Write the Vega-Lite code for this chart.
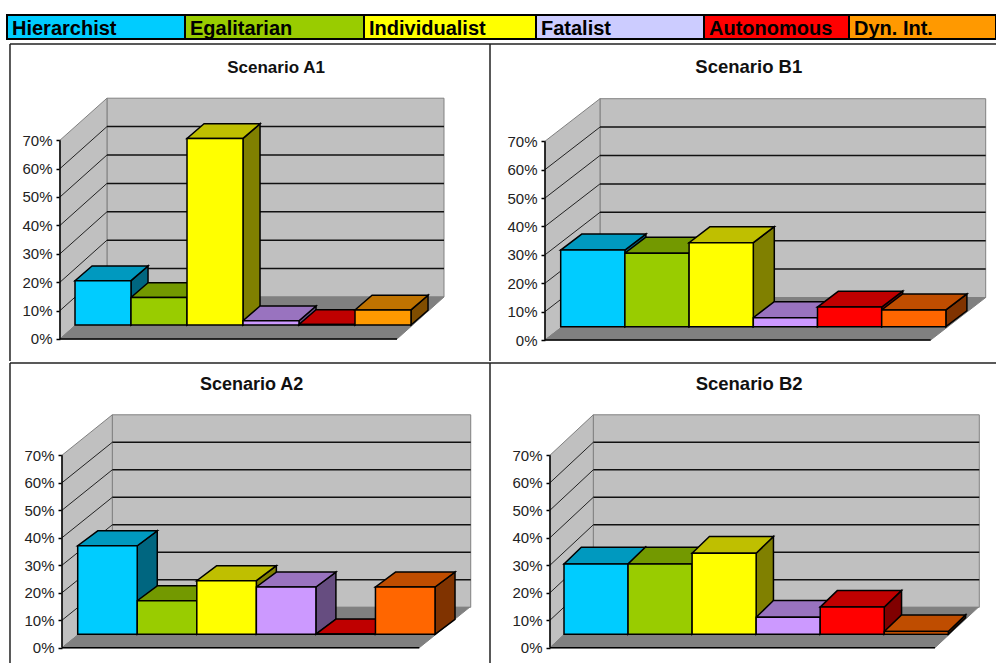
{"$schema":"https://vega.github.io/schema/vega-lite/v6.json","background":"white","padding":{"left":6,"top":14,"right":0,"bottom":0},"spacing":0,"config":{"view":{"stroke":null},"concat":{"spacing":0},"axis":{"labelFont":"Liberation Sans","labelFontSize":15,"labelColor":"#222222","tickColor":"#000000","tickSize":4,"tickWidth":1.5,"labelPadding":4,"domain":false,"grid":false}},"resolve":{"scale":{"fill":"independent","x":"independent","y":"independent"}},"datasets":{"shares":[{"scenario":"A1","group":"Hierarchist","value":15.6},{"scenario":"A1","group":"Egalitarian","value":9.7},{"scenario":"A1","group":"Individualist","value":65.7},{"scenario":"A1","group":"Fatalist","value":1.5},{"scenario":"A1","group":"Autonomous","value":0.2},{"scenario":"A1","group":"Dyn. Int.","value":5.3},{"scenario":"B1","group":"Hierarchist","value":27},{"scenario":"B1","group":"Egalitarian","value":25.9},{"scenario":"B1","group":"Individualist","value":29.6},{"scenario":"B1","group":"Fatalist","value":3.2},{"scenario":"B1","group":"Autonomous","value":6.9},{"scenario":"B1","group":"Dyn. Int.","value":5.9},{"scenario":"A2","group":"Hierarchist","value":32.2},{"scenario":"A2","group":"Egalitarian","value":12.2},{"scenario":"A2","group":"Individualist","value":19.5},{"scenario":"A2","group":"Fatalist","value":17.2},{"scenario":"A2","group":"Autonomous","value":0.1},{"scenario":"A2","group":"Dyn. Int.","value":17.2},{"scenario":"B2","group":"Hierarchist","value":25.6},{"scenario":"B2","group":"Egalitarian","value":25.6},{"scenario":"B2","group":"Individualist","value":29.5},{"scenario":"B2","group":"Fatalist","value":6.2},{"scenario":"B2","group":"Autonomous","value":9.9},{"scenario":"B2","group":"Dyn. Int.","value":1}],"groups":[{"group":"Hierarchist"},{"group":"Egalitarian"},{"group":"Individualist"},{"group":"Fatalist"},{"group":"Autonomous"},{"group":"Dyn. Int."}],"levels":[{"level":0},{"level":10},{"level":20},{"level":30},{"level":40},{"level":50},{"level":60},{"level":70}],"ends":[{"end":0},{"end":1}],"edges":[{"edge":"one"},{"edge":"two"}],"single":[{"part":"wall"}]},"vconcat":[{"width":989,"height":24,"data":{"name":"groups"},"transform":[{"calculate":"indexof(['Hierarchist','Egalitarian','Individualist','Fatalist','Autonomous','Dyn. Int.'],datum.group)","as":"slot"},{"calculate":"[0,178,357,529,697,842][datum.slot]","as":"px"},{"calculate":"[178,357,529,697,842,989][datum.slot]","as":"px2"}],"encoding":{"x":{"field":"px","type":"quantitative","scale":{"domain":[0,989]},"axis":null}},"layer":[{"transform":[{"calculate":"0","as":"py"},{"calculate":"1","as":"py2"}],"mark":{"type":"rect","stroke":"#000000","strokeWidth":2},"encoding":{"x2":{"field":"px2"},"y":{"field":"py","type":"quantitative","scale":{"domain":[0,1]},"axis":null},"y2":{"field":"py2"},"fill":{"field":"group","type":"nominal","legend":null,"scale":{"domain":["Hierarchist","Egalitarian","Individualist","Fatalist","Autonomous","Dyn. Int."],"range":["#00CCFF","#99CC00","#FFFF00","#CCCCFF","#FF0000","#FF9900"]}}}},{"transform":[{"calculate":"0.167","as":"py"}],"mark":{"type":"text","align":"left","baseline":"alphabetic","dx":5,"font":"Liberation Sans","fontWeight":"bold","fontSize":20,"fill":"#000000"},"encoding":{"y":{"field":"py","type":"quantitative","scale":{"domain":[0,1]},"axis":null},"text":{"field":"group"}}}]},{"hconcat":[{"width":483,"height":321,"data":{"name":"shares"},"transform":[{"filter":"datum.scenario==='A1'"},{"calculate":"indexof(['Hierarchist','Egalitarian','Individualist','Fatalist','Autonomous','Dyn. Int.'],datum.group)","as":"slot"}],"encoding":{"x":{"field":"px","type":"quantitative","scale":{"domain":[-1.2143,7.4107]},"axis":null},"y":{"field":"py","type":"quantitative","scale":{"domain":[-7.75,105.28]},"axis":{"title":null,"values":[0,10,20,30,40,50,60,70],"labelExpr":"datum.value+'%'","offset":-53}}},"resolve":{"scale":{"fill":"independent"}},"layer":[{"data":{"name":"edges"},"transform":[{"calculate":"-1.161","as":"px"},{"calculate":"datum.edge==='one'?-1.161:7.4107","as":"px2"},{"calculate":"datum.edge==='one'?-7.75:103.87","as":"py"},{"calculate":"103.87","as":"py2"}],"mark":{"type":"rule","stroke":"#222222","strokeWidth":1.5},"encoding":{"x2":{"field":"px2"},"y2":{"field":"py2"}}},{"data":{"name":"single"},"transform":[{"calculate":"0.571","as":"px"},{"calculate":"6.589","as":"px2"},{"calculate":"14.79","as":"py"},{"calculate":"84.79","as":"py2"}],"mark":{"type":"rect","fill":"#C0C0C0","stroke":"#808080","strokeWidth":1},"encoding":{"x2":{"field":"px2"},"y2":{"field":"py2"}}},{"data":{"name":"ends"},"transform":[{"calculate":"-0.268+datum.end*(0.571+0.268)","as":"px"},{"calculate":"datum.end*14.79","as":"py"},{"calculate":"datum.py+70","as":"py2"}],"mark":{"type":"area","orient":"vertical","fill":"#C0C0C0","stroke":"#808080","strokeWidth":1},"encoding":{"y2":{"field":"py2"}}},{"data":{"name":"ends"},"transform":[{"calculate":"-0.268+datum.end*(0.571+0.268)","as":"px"},{"calculate":"datum.px+6.018","as":"px2"},{"calculate":"datum.end*14.79","as":"py"}],"mark":{"type":"area","orient":"horizontal","fill":"#808080","stroke":"#808080","strokeWidth":1},"encoding":{"x2":{"field":"px2"}}},{"data":{"name":"levels"},"transform":[{"filter":"datum.level>0&&datum.level<70"},{"calculate":"0.571","as":"px"},{"calculate":"6.589","as":"px2"},{"calculate":"datum.level+14.79","as":"py"},{"calculate":"datum.py","as":"py2"}],"mark":{"type":"rule","stroke":"#111111","strokeWidth":1.5},"encoding":{"x2":{"field":"px2"},"y2":{"field":"py2"}}},{"data":{"name":"levels"},"transform":[{"filter":"datum.level>0&&datum.level<70"},{"calculate":"-0.268","as":"px"},{"calculate":"0.571","as":"px2"},{"calculate":"datum.level","as":"py"},{"calculate":"datum.level+14.79","as":"py2"}],"mark":{"type":"rule","stroke":"#222222","strokeWidth":1},"encoding":{"x2":{"field":"px2"},"y2":{"field":"py2"}}},{"data":{"name":"edges"},"transform":[{"calculate":"-0.268","as":"px"},{"calculate":"datum.edge==='one'?-0.268:5.75","as":"px2"},{"calculate":"0","as":"py"},{"calculate":"datum.edge==='one'?70:0","as":"py2"}],"mark":{"type":"rule","stroke":"#000000","strokeWidth":1.5},"encoding":{"x2":{"field":"px2"},"y2":{"field":"py2"}}},{"transform":[{"calculate":"[0,1]","as":"end"},{"flatten":["end"]},{"calculate":"datum.slot+1+datum.end*0.304","as":"px"},{"calculate":"4.93+datum.end*5.18","as":"py"},{"calculate":"datum.py+datum.value","as":"py2"}],"mark":{"type":"area","orient":"vertical","stroke":"#000000","strokeWidth":1.5},"encoding":{"y2":{"field":"py2"},"fill":{"field":"group","type":"nominal","legend":null,"scale":{"domain":["Hierarchist","Egalitarian","Individualist","Fatalist","Autonomous","Dyn. Int."],"range":["#006680","#4D6600","#808000","#664D80","#800000","#804D00"]}}}},{"transform":[{"calculate":"[0,1]","as":"end"},{"flatten":["end"]},{"calculate":"datum.slot+datum.end*0.304","as":"px"},{"calculate":"datum.px+1","as":"px2"},{"calculate":"4.93+datum.end*5.18+datum.value","as":"py"}],"mark":{"type":"area","orient":"horizontal","stroke":"#000000","strokeWidth":1.5},"encoding":{"x2":{"field":"px2"},"fill":{"field":"group","type":"nominal","legend":null,"scale":{"domain":["Hierarchist","Egalitarian","Individualist","Fatalist","Autonomous","Dyn. Int."],"range":["#0099BF","#739900","#BFBF00","#9973BF","#BF0000","#BF7300"]}}}},{"transform":[{"calculate":"datum.slot","as":"px"},{"calculate":"datum.slot+1","as":"px2"},{"calculate":"4.93","as":"py"},{"calculate":"4.93+datum.value","as":"py2"}],"mark":{"type":"rect","stroke":"#000000","strokeWidth":1.5},"encoding":{"x2":{"field":"px2"},"y2":{"field":"py2"},"fill":{"field":"group","type":"nominal","legend":null,"scale":{"domain":["Hierarchist","Egalitarian","Individualist","Fatalist","Autonomous","Dyn. Int."],"range":["#00CCFF","#99CC00","#FFFF00","#CC99FF","#FF0000","#FF9900"]}}}},{"data":{"name":"single"},"transform":[{"calculate":"3.59","as":"px"},{"calculate":"93.65","as":"py"},{"calculate":"'Scenario A1'","as":"label"}],"mark":{"type":"text","align":"center","baseline":"alphabetic","font":"Liberation Sans","fontWeight":"bold","fontSize":17,"fill":"#111111"},"encoding":{"text":{"field":"label"}}}]},{"width":506,"height":321,"data":{"name":"shares"},"transform":[{"filter":"datum.scenario==='B1'"},{"calculate":"indexof(['Hierarchist','Egalitarian','Individualist','Fatalist','Autonomous','Dyn. Int.'],datum.group)","as":"slot"}],"encoding":{"x":{"field":"px","type":"quantitative","scale":{"domain":[-1.1012,6.7804]},"axis":null},"y":{"field":"py","type":"quantitative","scale":{"domain":[-7.39,105.63]},"axis":{"title":null,"values":[0,10,20,30,40,50,60,70],"labelExpr":"datum.value+'%'","offset":-55}}},"resolve":{"scale":{"fill":"independent"}},"layer":[{"data":{"name":"edges"},"transform":[{"calculate":"-1.1012","as":"px"},{"calculate":"datum.edge==='one'?-1.1012:6.7804","as":"px2"},{"calculate":"datum.edge==='one'?-7.39:104.23","as":"py"},{"calculate":"104.23","as":"py2"}],"mark":{"type":"rule","stroke":"#222222","strokeWidth":1.5},"encoding":{"x2":{"field":"px2"},"y2":{"field":"py2"}}},{"data":{"name":"single"},"transform":[{"calculate":"0.612","as":"px"},{"calculate":"6.62","as":"px2"},{"calculate":"14.96","as":"py"},{"calculate":"84.96","as":"py2"}],"mark":{"type":"rect","fill":"#C0C0C0","stroke":"#808080","strokeWidth":1},"encoding":{"x2":{"field":"px2"},"y2":{"field":"py2"}}},{"data":{"name":"ends"},"transform":[{"calculate":"-0.2445+datum.end*(0.612+0.2445)","as":"px"},{"calculate":"datum.end*14.96","as":"py"},{"calculate":"datum.py+70","as":"py2"}],"mark":{"type":"area","orient":"vertical","fill":"#C0C0C0","stroke":"#808080","strokeWidth":1},"encoding":{"y2":{"field":"py2"}}},{"data":{"name":"ends"},"transform":[{"calculate":"-0.2445+datum.end*(0.612+0.2445)","as":"px"},{"calculate":"datum.px+6.008","as":"px2"},{"calculate":"datum.end*14.96","as":"py"}],"mark":{"type":"area","orient":"horizontal","fill":"#808080","stroke":"#808080","strokeWidth":1},"encoding":{"x2":{"field":"px2"}}},{"data":{"name":"levels"},"transform":[{"filter":"datum.level>0&&datum.level<70"},{"calculate":"0.612","as":"px"},{"calculate":"6.62","as":"px2"},{"calculate":"datum.level+14.96","as":"py"},{"calculate":"datum.py","as":"py2"}],"mark":{"type":"rule","stroke":"#111111","strokeWidth":1.5},"encoding":{"x2":{"field":"px2"},"y2":{"field":"py2"}}},{"data":{"name":"levels"},"transform":[{"filter":"datum.level>0&&datum.level<70"},{"calculate":"-0.2445","as":"px"},{"calculate":"0.612","as":"px2"},{"calculate":"datum.level","as":"py"},{"calculate":"datum.level+14.96","as":"py2"}],"mark":{"type":"rule","stroke":"#222222","strokeWidth":1},"encoding":{"x2":{"field":"px2"},"y2":{"field":"py2"}}},{"data":{"name":"edges"},"transform":[{"calculate":"-0.2445","as":"px"},{"calculate":"datum.edge==='one'?-0.2445:5.763","as":"px2"},{"calculate":"0","as":"py"},{"calculate":"datum.edge==='one'?70:0","as":"py2"}],"mark":{"type":"rule","stroke":"#000000","strokeWidth":1.5},"encoding":{"x2":{"field":"px2"},"y2":{"field":"py2"}}},{"transform":[{"calculate":"[0,1]","as":"end"},{"flatten":["end"]},{"calculate":"datum.slot+1+datum.end*0.327","as":"px"},{"calculate":"4.68+datum.end*5.63","as":"py"},{"calculate":"datum.py+datum.value","as":"py2"}],"mark":{"type":"area","orient":"vertical","stroke":"#000000","strokeWidth":1.5},"encoding":{"y2":{"field":"py2"},"fill":{"field":"group","type":"nominal","legend":null,"scale":{"domain":["Hierarchist","Egalitarian","Individualist","Fatalist","Autonomous","Dyn. Int."],"range":["#006680","#4D6600","#808000","#664D80","#800000","#803300"]}}}},{"transform":[{"calculate":"[0,1]","as":"end"},{"flatten":["end"]},{"calculate":"datum.slot+datum.end*0.327","as":"px"},{"calculate":"datum.px+1","as":"px2"},{"calculate":"4.68+datum.end*5.63+datum.value","as":"py"}],"mark":{"type":"area","orient":"horizontal","stroke":"#000000","strokeWidth":1.5},"encoding":{"x2":{"field":"px2"},"fill":{"field":"group","type":"nominal","legend":null,"scale":{"domain":["Hierarchist","Egalitarian","Individualist","Fatalist","Autonomous","Dyn. Int."],"range":["#0099BF","#739900","#BFBF00","#9973BF","#BF0000","#BF4D00"]}}}},{"transform":[{"calculate":"datum.slot","as":"px"},{"calculate":"datum.slot+1","as":"px2"},{"calculate":"4.68","as":"py"},{"calculate":"4.68+datum.value","as":"py2"}],"mark":{"type":"rect","stroke":"#000000","strokeWidth":1.5},"encoding":{"x2":{"field":"px2"},"y2":{"field":"py2"},"fill":{"field":"group","type":"nominal","legend":null,"scale":{"domain":["Hierarchist","Egalitarian","Individualist","Fatalist","Autonomous","Dyn. Int."],"range":["#00CCFF","#99CC00","#FFFF00","#CC99FF","#FF0000","#FF6600"]}}}},{"data":{"name":"single"},"transform":[{"calculate":"2.93","as":"px"},{"calculate":"94.05","as":"py"},{"calculate":"'Scenario B1'","as":"label"}],"mark":{"type":"text","align":"center","baseline":"alphabetic","font":"Liberation Sans","fontWeight":"bold","fontSize":18.5,"fill":"#111111"},"encoding":{"text":{"field":"label"}}}]}],"spacing":0,"bounds":"flush","resolve":{"scale":{"fill":"independent"}}},{"hconcat":[{"width":483,"height":300,"data":{"name":"shares"},"transform":[{"filter":"datum.scenario==='A2'"},{"calculate":"indexof(['Hierarchist','Egalitarian','Individualist','Fatalist','Autonomous','Dyn. Int.'],datum.group)","as":"slot"}],"encoding":{"x":{"field":"px","type":"quantitative","scale":{"domain":[-1.1873,6.9236]},"axis":null},"y":{"field":"py","type":"quantitative","scale":{"domain":[-5.56,103.53]},"axis":{"title":null,"values":[0,10,20,30,40,50,60,70],"labelExpr":"datum.value+'%'","offset":-55}}},"resolve":{"scale":{"fill":"independent"}},"layer":[{"data":{"name":"edges"},"transform":[{"calculate":"-1.137","as":"px"},{"calculate":"datum.edge==='one'?-1.137:6.9236","as":"px2"},{"calculate":"datum.edge==='one'?-5.56:103.53","as":"py"},{"calculate":"103.53","as":"py2"}],"mark":{"type":"rule","stroke":"#222222","strokeWidth":1.5},"encoding":{"x2":{"field":"px2"},"y2":{"field":"py2"}}},{"data":{"name":"single"},"transform":[{"calculate":"0.581","as":"px"},{"calculate":"6.6","as":"px2"},{"calculate":"14.69","as":"py"},{"calculate":"84.69","as":"py2"}],"mark":{"type":"rect","fill":"#C0C0C0","stroke":"#808080","strokeWidth":1},"encoding":{"x2":{"field":"px2"},"y2":{"field":"py2"}}},{"data":{"name":"ends"},"transform":[{"calculate":"-0.2636+datum.end*(0.581+0.2636)","as":"px"},{"calculate":"datum.end*14.69","as":"py"},{"calculate":"datum.py+70","as":"py2"}],"mark":{"type":"area","orient":"vertical","fill":"#C0C0C0","stroke":"#808080","strokeWidth":1},"encoding":{"y2":{"field":"py2"}}},{"data":{"name":"ends"},"transform":[{"calculate":"-0.2636+datum.end*(0.581+0.2636)","as":"px"},{"calculate":"datum.px+6","as":"px2"},{"calculate":"datum.end*14.69","as":"py"}],"mark":{"type":"area","orient":"horizontal","fill":"#808080","stroke":"#808080","strokeWidth":1},"encoding":{"x2":{"field":"px2"}}},{"data":{"name":"levels"},"transform":[{"filter":"datum.level>0&&datum.level<70"},{"calculate":"0.581","as":"px"},{"calculate":"6.6","as":"px2"},{"calculate":"datum.level+14.69","as":"py"},{"calculate":"datum.py","as":"py2"}],"mark":{"type":"rule","stroke":"#111111","strokeWidth":1.5},"encoding":{"x2":{"field":"px2"},"y2":{"field":"py2"}}},{"data":{"name":"levels"},"transform":[{"filter":"datum.level>0&&datum.level<70"},{"calculate":"-0.2636","as":"px"},{"calculate":"0.581","as":"px2"},{"calculate":"datum.level","as":"py"},{"calculate":"datum.level+14.69","as":"py2"}],"mark":{"type":"rule","stroke":"#222222","strokeWidth":1},"encoding":{"x2":{"field":"px2"},"y2":{"field":"py2"}}},{"data":{"name":"edges"},"transform":[{"calculate":"-0.2636","as":"px"},{"calculate":"datum.edge==='one'?-0.2636:5.736","as":"px2"},{"calculate":"0","as":"py"},{"calculate":"datum.edge==='one'?70:0","as":"py2"}],"mark":{"type":"rule","stroke":"#000000","strokeWidth":1.5},"encoding":{"x2":{"field":"px2"},"y2":{"field":"py2"}}},{"transform":[{"calculate":"[0,1]","as":"end"},{"flatten":["end"]},{"calculate":"datum.slot+1+datum.end*0.336","as":"px"},{"calculate":"4.87+datum.end*5.45","as":"py"},{"calculate":"datum.py+datum.value","as":"py2"}],"mark":{"type":"area","orient":"vertical","stroke":"#000000","strokeWidth":1.5},"encoding":{"y2":{"field":"py2"},"fill":{"field":"group","type":"nominal","legend":null,"scale":{"domain":["Hierarchist","Egalitarian","Individualist","Fatalist","Autonomous","Dyn. Int."],"range":["#006680","#4D6600","#808000","#664D80","#800000","#803300"]}}}},{"transform":[{"calculate":"[0,1]","as":"end"},{"flatten":["end"]},{"calculate":"datum.slot+datum.end*0.336","as":"px"},{"calculate":"datum.px+1","as":"px2"},{"calculate":"4.87+datum.end*5.45+datum.value","as":"py"}],"mark":{"type":"area","orient":"horizontal","stroke":"#000000","strokeWidth":1.5},"encoding":{"x2":{"field":"px2"},"fill":{"field":"group","type":"nominal","legend":null,"scale":{"domain":["Hierarchist","Egalitarian","Individualist","Fatalist","Autonomous","Dyn. Int."],"range":["#0099BF","#739900","#BFBF00","#9973BF","#BF0000","#BF4D00"]}}}},{"transform":[{"calculate":"datum.slot","as":"px"},{"calculate":"datum.slot+1","as":"px2"},{"calculate":"4.87","as":"py"},{"calculate":"4.87+datum.value","as":"py2"}],"mark":{"type":"rect","stroke":"#000000","strokeWidth":1.5},"encoding":{"x2":{"field":"px2"},"y2":{"field":"py2"},"fill":{"field":"group","type":"nominal","legend":null,"scale":{"domain":["Hierarchist","Egalitarian","Individualist","Fatalist","Autonomous","Dyn. Int."],"range":["#00CCFF","#99CC00","#FFFF00","#CC99FF","#FF0000","#FF6600"]}}}},{"data":{"name":"single"},"transform":[{"calculate":"2.92","as":"px"},{"calculate":"93.83","as":"py"},{"calculate":"'Scenario A2'","as":"label"}],"mark":{"type":"text","align":"center","baseline":"alphabetic","font":"Liberation Sans","fontWeight":"bold","fontSize":18,"fill":"#111111"},"encoding":{"text":{"field":"label"}}}]},{"width":506,"height":300,"data":{"name":"shares"},"transform":[{"filter":"datum.scenario==='B2'"},{"calculate":"indexof(['Hierarchist','Egalitarian','Individualist','Fatalist','Autonomous','Dyn. Int.'],datum.group)","as":"slot"}],"encoding":{"x":{"field":"px","type":"quantitative","scale":{"domain":[-1.1554,6.7447]},"axis":null},"y":{"field":"py","type":"quantitative","scale":{"domain":[-5.56,103.53]},"axis":{"title":null,"values":[0,10,20,30,40,50,60,70],"labelExpr":"datum.value+'%'","offset":-60}}},"resolve":{"scale":{"fill":"independent"}},"layer":[{"data":{"name":"edges"},"transform":[{"calculate":"-1.1554","as":"px"},{"calculate":"datum.edge==='one'?-1.1554:6.7447","as":"px2"},{"calculate":"datum.edge==='one'?-5.56:103.53","as":"py"},{"calculate":"103.53","as":"py2"}],"mark":{"type":"rule","stroke":"#222222","strokeWidth":1.5},"encoding":{"x2":{"field":"px2"},"y2":{"field":"py2"}}},{"data":{"name":"single"},"transform":[{"calculate":"0.4575","as":"px"},{"calculate":"6.484","as":"px2"},{"calculate":"14.69","as":"py"},{"calculate":"84.69","as":"py2"}],"mark":{"type":"rect","fill":"#C0C0C0","stroke":"#808080","strokeWidth":1},"encoding":{"x2":{"field":"px2"},"y2":{"field":"py2"}}},{"data":{"name":"ends"},"transform":[{"calculate":"-0.2186+datum.end*(0.4575+0.2186)","as":"px"},{"calculate":"datum.end*14.69","as":"py"},{"calculate":"datum.py+70","as":"py2"}],"mark":{"type":"area","orient":"vertical","fill":"#C0C0C0","stroke":"#808080","strokeWidth":1},"encoding":{"y2":{"field":"py2"}}},{"data":{"name":"ends"},"transform":[{"calculate":"-0.2186+datum.end*(0.4575+0.2186)","as":"px"},{"calculate":"datum.px+6.0106","as":"px2"},{"calculate":"datum.end*14.69","as":"py"}],"mark":{"type":"area","orient":"horizontal","fill":"#808080","stroke":"#808080","strokeWidth":1},"encoding":{"x2":{"field":"px2"}}},{"data":{"name":"levels"},"transform":[{"filter":"datum.level>0&&datum.level<70"},{"calculate":"0.4575","as":"px"},{"calculate":"6.484","as":"px2"},{"calculate":"datum.level+14.69","as":"py"},{"calculate":"datum.py","as":"py2"}],"mark":{"type":"rule","stroke":"#111111","strokeWidth":1.5},"encoding":{"x2":{"field":"px2"},"y2":{"field":"py2"}}},{"data":{"name":"levels"},"transform":[{"filter":"datum.level>0&&datum.level<70"},{"calculate":"-0.2186","as":"px"},{"calculate":"0.4575","as":"px2"},{"calculate":"datum.level","as":"py"},{"calculate":"datum.level+14.69","as":"py2"}],"mark":{"type":"rule","stroke":"#222222","strokeWidth":1},"encoding":{"x2":{"field":"px2"},"y2":{"field":"py2"}}},{"data":{"name":"edges"},"transform":[{"calculate":"-0.2186","as":"px"},{"calculate":"datum.edge==='one'?-0.2186:5.792","as":"px2"},{"calculate":"0","as":"py"},{"calculate":"datum.edge==='one'?70:0","as":"py2"}],"mark":{"type":"rule","stroke":"#000000","strokeWidth":1.5},"encoding":{"x2":{"field":"px2"},"y2":{"field":"py2"}}},{"transform":[{"calculate":"[0,1]","as":"end"},{"flatten":["end"]},{"calculate":"datum.slot+1+datum.end*0.27","as":"px"},{"calculate":"4.87+datum.end*6.07","as":"py"},{"calculate":"datum.py+datum.value","as":"py2"}],"mark":{"type":"area","orient":"vertical","stroke":"#000000","strokeWidth":1.5},"encoding":{"y2":{"field":"py2"},"fill":{"field":"group","type":"nominal","legend":null,"scale":{"domain":["Hierarchist","Egalitarian","Individualist","Fatalist","Autonomous","Dyn. Int."],"range":["#006680","#4D6600","#808000","#664D80","#800000","#803300"]}}}},{"transform":[{"calculate":"[0,1]","as":"end"},{"flatten":["end"]},{"calculate":"datum.slot+datum.end*0.27","as":"px"},{"calculate":"datum.px+1","as":"px2"},{"calculate":"4.87+datum.end*6.07+datum.value","as":"py"}],"mark":{"type":"area","orient":"horizontal","stroke":"#000000","strokeWidth":1.5},"encoding":{"x2":{"field":"px2"},"fill":{"field":"group","type":"nominal","legend":null,"scale":{"domain":["Hierarchist","Egalitarian","Individualist","Fatalist","Autonomous","Dyn. Int."],"range":["#0099BF","#739900","#BFBF00","#9973BF","#BF0000","#BF4D00"]}}}},{"transform":[{"calculate":"datum.slot","as":"px"},{"calculate":"datum.slot+1","as":"px2"},{"calculate":"4.87","as":"py"},{"calculate":"4.87+datum.value","as":"py2"}],"mark":{"type":"rect","stroke":"#000000","strokeWidth":1.5},"encoding":{"x2":{"field":"px2"},"y2":{"field":"py2"},"fill":{"field":"group","type":"nominal","legend":null,"scale":{"domain":["Hierarchist","Egalitarian","Individualist","Fatalist","Autonomous","Dyn. Int."],"range":["#00CCFF","#99CC00","#FFFF00","#CC99FF","#FF0000","#FF6600"]}}}},{"data":{"name":"single"},"transform":[{"calculate":"2.89","as":"px"},{"calculate":"93.83","as":"py"},{"calculate":"'Scenario B2'","as":"label"}],"mark":{"type":"text","align":"center","baseline":"alphabetic","font":"Liberation Sans","fontWeight":"bold","fontSize":18.5,"fill":"#111111"},"encoding":{"text":{"field":"label"}}}]}],"spacing":0,"bounds":"flush","resolve":{"scale":{"fill":"independent"}}}]}
